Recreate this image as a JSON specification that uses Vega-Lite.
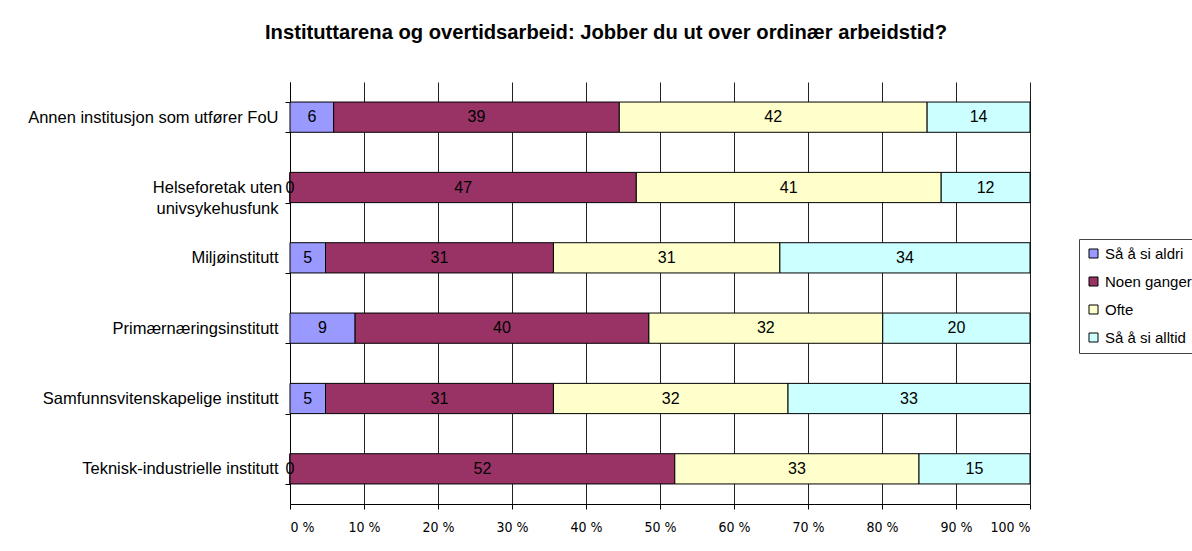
{
  "$schema": "https://vega.github.io/schema/vega-lite/v6.json",
  "width": 740,
  "height": 422,
  "autosize": {"type": "none"},
  "padding": {"left": 290, "top": 82, "right": 162, "bottom": 47},
  "background": "white",
  "title": {
    "text": "Instituttarena og overtidsarbeid: Jobber du ut over ordinær arbeidstid?",
    "font": "Liberation Sans",
    "fontSize": 20.2,
    "fontWeight": "bold",
    "color": "black",
    "anchor": "middle",
    "frame": "group",
    "dx": -54,
    "offset": 31
  },
  "data": {
    "values": [
      {"inst": "Annen institusjon som utfører FoU", "svar": "Så å si aldri", "o": 1, "v": 5.9},
      {"inst": "Annen institusjon som utfører FoU", "svar": "Noen ganger", "o": 2, "v": 38.6},
      {"inst": "Annen institusjon som utfører FoU", "svar": "Ofte", "o": 3, "v": 41.6},
      {"inst": "Annen institusjon som utfører FoU", "svar": "Så å si alltid", "o": 4, "v": 13.9},
      {"inst": "Helseforetak uten univsykehusfunk", "svar": "Så å si aldri", "o": 1, "v": 0},
      {"inst": "Helseforetak uten univsykehusfunk", "svar": "Noen ganger", "o": 2, "v": 46.8},
      {"inst": "Helseforetak uten univsykehusfunk", "svar": "Ofte", "o": 3, "v": 41.2},
      {"inst": "Helseforetak uten univsykehusfunk", "svar": "Så å si alltid", "o": 4, "v": 12.0},
      {"inst": "Miljøinstitutt", "svar": "Så å si aldri", "o": 1, "v": 4.8},
      {"inst": "Miljøinstitutt", "svar": "Noen ganger", "o": 2, "v": 30.8},
      {"inst": "Miljøinstitutt", "svar": "Ofte", "o": 3, "v": 30.6},
      {"inst": "Miljøinstitutt", "svar": "Så å si alltid", "o": 4, "v": 33.8},
      {"inst": "Primærnæringsinstitutt", "svar": "Så å si aldri", "o": 1, "v": 8.8},
      {"inst": "Primærnæringsinstitutt", "svar": "Noen ganger", "o": 2, "v": 39.7},
      {"inst": "Primærnæringsinstitutt", "svar": "Ofte", "o": 3, "v": 31.6},
      {"inst": "Primærnæringsinstitutt", "svar": "Så å si alltid", "o": 4, "v": 19.9},
      {"inst": "Samfunnsvitenskapelige institutt", "svar": "Så å si aldri", "o": 1, "v": 4.8},
      {"inst": "Samfunnsvitenskapelige institutt", "svar": "Noen ganger", "o": 2, "v": 30.8},
      {"inst": "Samfunnsvitenskapelige institutt", "svar": "Ofte", "o": 3, "v": 31.7},
      {"inst": "Samfunnsvitenskapelige institutt", "svar": "Så å si alltid", "o": 4, "v": 32.7},
      {"inst": "Teknisk-industrielle institutt", "svar": "Så å si aldri", "o": 1, "v": 0},
      {"inst": "Teknisk-industrielle institutt", "svar": "Noen ganger", "o": 2, "v": 52.0},
      {"inst": "Teknisk-industrielle institutt", "svar": "Ofte", "o": 3, "v": 33.0},
      {"inst": "Teknisk-industrielle institutt", "svar": "Så å si alltid", "o": 4, "v": 15.0}
    ]
  },
  "transform": [
    {"stack": "v", "groupby": ["inst"], "sort": [{"field": "o"}], "as": ["x0", "x1"], "offset": "normalize"},
    {"calculate": "(datum.x0 + datum.x1) / 2", "as": "xm"}
  ],
  "encoding": {
    "y": {
      "field": "inst",
      "type": "nominal",
      "sort": null,
      "scale": {"paddingInner": 0.57, "paddingOuter": 0.285},
      "axis": {
        "title": null,
        "tickBand": "extent",
        "tickSize": 5,
        "tickColor": "black",
        "domainColor": "black",
        "labelFontSize": 16.5,
        "labelColor": "black",
        "labelLimit": 400,
        "labelLineHeight": 21,
        "labelExpr": "datum.value == 'Helseforetak uten univsykehusfunk' ? ['Helseforetak uten', 'univsykehusfunk '] : datum.value",
        "labelAlign": {"condition": {"test": "datum.value == 'Helseforetak uten univsykehusfunk'", "value": "center"}, "value": "right"},
        "labelPadding": {"condition": {"test": "datum.value == 'Helseforetak uten univsykehusfunk'", "value": 68}, "value": 7}
      }
    }
  },
  "layer": [
    {
      "mark": {"type": "bar", "stroke": "black", "strokeWidth": 1},
      "encoding": {
        "x": {
          "field": "x0",
          "type": "quantitative",
          "scale": {"domain": [0, 1], "nice": false},
          "axis": {
            "title": null,
            "values": [0, 0.1, 0.2, 0.3, 0.4, 0.5, 0.6, 0.7, 0.8, 0.9, 1],
            "labelExpr": "round(datum.value * 100) + ' %'",
            "grid": true,
            "gridColor": "#222222",
            "gridWidth": 1,
            "domainColor": "black",
            "tickColor": "black",
            "tickSize": 5,
            "labelFont": "Liberation Sans Narrow, DejaVu Sans Condensed, Liberation Sans",
            "labelFontSize": 14,
            "labelColor": "black",
            "labelPadding": 11
          }
        },
        "x2": {"field": "x1"},
        "color": {
          "field": "svar",
          "type": "nominal",
          "scale": {
            "domain": ["Så å si aldri", "Noen ganger", "Ofte", "Så å si alltid"],
            "range": ["#9999FF", "#993366", "#FFFFCC", "#CCFFFF"]
          },
          "legend": {
            "orient": "none",
            "legendX": 789,
            "legendY": 157,
            "title": null,
            "symbolType": "square",
            "symbolSize": 81,
            "symbolStrokeColor": "black",
            "symbolStrokeWidth": 1,
            "labelFontSize": 15,
            "labelColor": "black",
            "labelOffset": 4,
            "labelLimit": 300,
            "rowPadding": 12,
            "padding": 7,
            "strokeColor": "#444444"
          }
        }
      }
    },
    {
      "mark": {"type": "text", "fontSize": 16, "color": "black", "baseline": "middle", "align": "center"},
      "encoding": {
        "x": {"field": "xm", "type": "quantitative"},
        "text": {"field": "v", "type": "quantitative", "format": ".0f"}
      }
    }
  ],
  "config": {
    "view": {"stroke": null},
    "font": "Liberation Sans"
  }
}
